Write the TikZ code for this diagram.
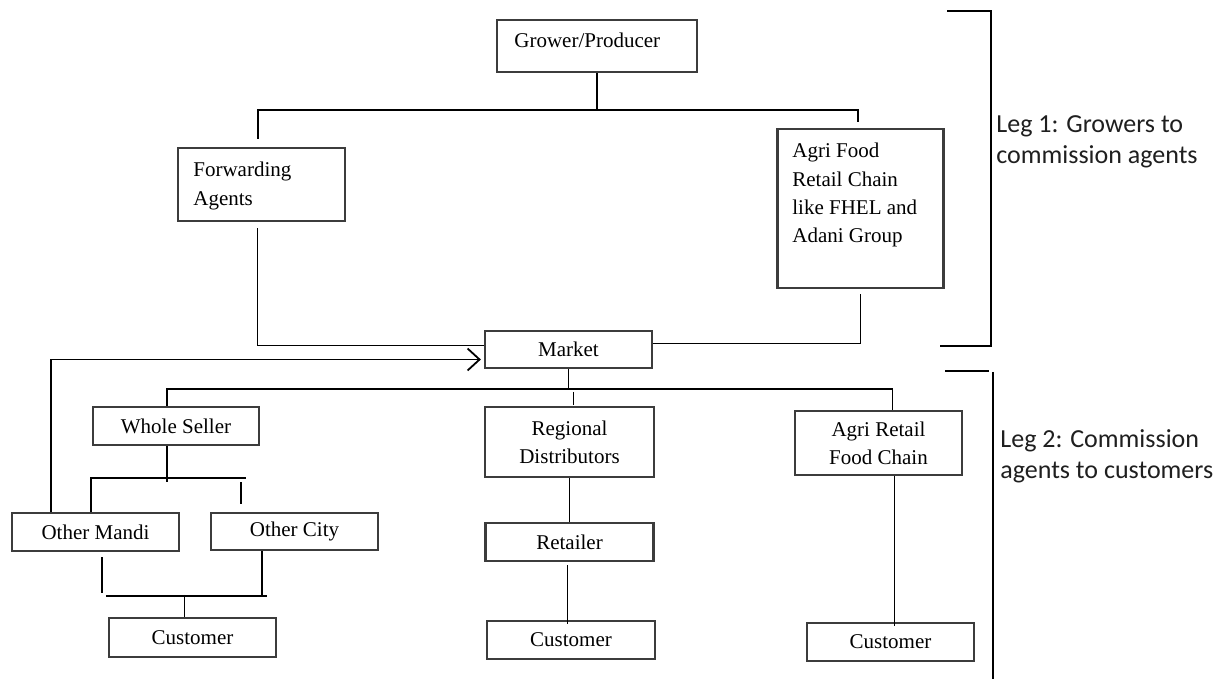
\documentclass[tikz,border=0pt]{standalone}
\usepackage{fontspec}
\setmainfont{Liberation Serif}
\newfontfamily\legfont{Carlito}
\usetikzlibrary{calc,arrows.meta}
\definecolor{legcol}{HTML}{1F1F1F}
\definecolor{boxgray}{HTML}{3C3C3C}
\begin{document}
\begin{tikzpicture}[x=0.5pt,y=-0.5pt,
  box/.style={draw=boxgray, line width=1.1pt, rectangle, inner sep=0pt, align=center,
    font=\fontsize{10.5}{14}\selectfont},
  conn/.style={draw=black, line width=0.9pt},
  boxtext/.style={inner sep=0pt, anchor=north west, align=left, font=\fontsize{10.5}{14.1}\selectfont},
  legtext/.style={inner sep=0pt, anchor=north west, align=left, text=legcol,
    font=\legfont\fontsize{13}{15.5}\selectfont},
]
\fill[white] (0,0) rectangle (1222,679);
\useasboundingbox (0,0) rectangle (1222,679);

% boxes
\node[box, minimum width=100pt, minimum height=26pt] (grower) at (597,46) {};
\node[box, minimum width=83.5pt, minimum height=36.5pt] (fa) at (261.5,184.5) {};
\node[box, minimum width=83pt, minimum height=79.5pt] (agri) at (860.5,208.5) {};
\node[box, minimum width=83.5pt, minimum height=18.5pt] (market) at (568.5,349.5) {Market};
\node[box, minimum width=83pt, minimum height=19pt] (ws) at (176,426) {Whole Seller};
\node[box, minimum width=84.5pt, minimum height=35pt] (rd) at (569.5,442) {Regional\\Distributors};
\node[box, minimum width=83.5pt, minimum height=32pt] (ar) at (878.5,443) {Agri Retail\\Food Chain};
\node[box, minimum width=83.5pt, minimum height=19pt] (om) at (95.5,532) {Other Mandi};
\node[box, minimum width=83.5pt, minimum height=18.5pt] (oc) at (294.5,531.5) {Other City};
\node[box, minimum width=84pt, minimum height=19pt] (ret) at (569.5,542) {Retailer};
\node[box, minimum width=83.5pt, minimum height=19.5pt] (c1) at (192.5,637.5) {Customer};
\node[box, minimum width=84pt, minimum height=19pt] (c2) at (571,640) {Customer};
\node[box, minimum width=83.5pt, minimum height=19pt] (c3) at (890.5,642) {Customer};

% left-aligned box texts
\node[boxtext] (growertext) at (514,33) {Grower/Producer};
\node[boxtext] (fatext) at (193,162) {Forwarding\\Agents};
\node[boxtext] (agritext) at (792,143) {Agri Food\\Retail Chain\\like FHEL and\\Adani Group};

% leg 1 connectors
\coordinate (j1) at (597,110);
\draw[conn] (grower.south) -- (j1);
\draw[conn] ($(fa.north)+(-3.5,-8)$) |- (j1) -| ($(agri.north)+(-2.5,-6)$);
\draw[conn] ($(fa.south)+(-4,6)$) |- ($(market.west)+(0,-4)$);
\draw[conn] ($(agri.south)+(0,5)$) |- ($(market.east)+(0,-6)$);
\draw[conn, -{Straight Barb[length=6pt,width=11pt]}] ($(om.north west)+(40,0)$) |- ($(market.west)+(-3,10)$);

% leg 2 connectors
\coordinate (j2) at ($(market.south)+(0,20)$);
\draw[conn] (market.south) -- (j2);
\draw[conn] ($(ws.north)+(-9,0)$) |- (j2) -| ($(ar.north)+(14,0)$);
\draw[conn] ($(rd.north)+(4,-14)$) -- ($(rd.north)+(4,-1)$);

\draw[conn] ($(ws.south)+(-9,0)$) -- ++(0,36);
\draw[conn] ($(om.north west)+(80,0)$) |- ($(oc.north west)+(36,-34)$);
\draw[conn] ($(oc.north west)+(31,-8)$) -- ($(oc.north west)+(31,-30)$);

\draw[conn] ($(om.south west)+(91,5)$) -- ++(0,36);
\draw[conn] ($(oc.south west)+(52,0)$) -- ++(0,44);
\draw[conn] ($(c1.north west)+(-2,-21)$) -- ($(c1.north west)+(159,-21)$);
\draw[conn] ($(c1.north)+(-8,-22)$) -- ($(c1.north)+(-8,0)$);

\draw[conn] (rd.south) -- (ret.north);
\draw[conn] ($(ret.south)+(-2,3)$) -- ($(c2.north)+(-3.5,4)$);
\draw[conn] ($(ar.south)+(16,0)$) -- ($(c3.north)+(4,4)$);

% brackets
\draw[conn] (947,11) -- (991,11) -- (991,346) -- (940,346);
\draw[conn] (945,371) -- (989,371);
\draw[conn] (993,372) -- (993,679);

% leg labels
\node[legtext] (leg1) at (996,115) {Leg 1: Growers to\\commission agents};
\node[legtext] (leg2) at (1000,429) {Leg 2: Commission\\agents to customers};
\end{tikzpicture}
\end{document}
